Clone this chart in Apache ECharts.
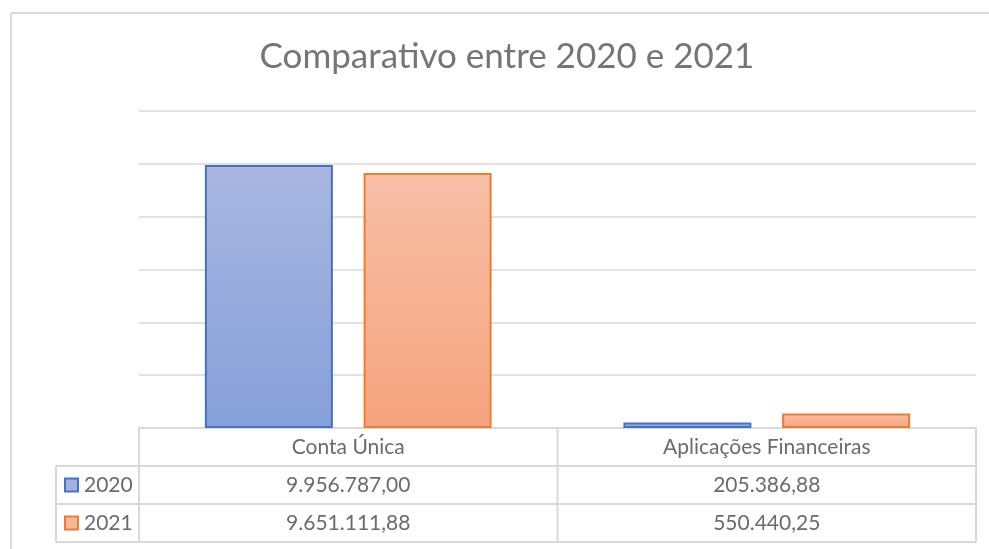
<!DOCTYPE html>
<html>
<head>
<meta charset="utf-8">
<script src="https://cdn.jsdelivr.net/npm/echarts@6/dist/echarts.min.js"></script>
<style>
  html, body { margin: 0; padding: 0; background: #fff; }
  #main { width: 989px; height: 549px; }
</style>
</head>
<body>
<div id="main"></div>
<script>
var categories = ['Conta Única', 'Aplicações Financeiras'];
var seriesNames = ['2020', '2021'];
var values2020 = [9956787.00, 205386.88];
var values2021 = [9651111.88, 550440.25];

var FONT = 'Lato, "Open Sans", sans-serif';
var TEXT_COLOR = '#6b6b6b';
var LINE_COLOR = '#d9d9d9';

// formato pt-BR: 9.956.787,00
function fmt(v) {
  var parts = v.toFixed(2).split('.');
  return parts[0].replace(/\B(?=(\d{3})+(?!\d))/g, '.') + ',' + parts[1];
}

var chart = echarts.init(document.getElementById('main'));

var option = {
  backgroundColor: '#ffffff',
  animation: false,
  title: {
    text: 'Comparativo entre 2020 e 2021',
    left: 502,
    textAlign: 'center',
    top: 34,
    textStyle: {
      fontFamily: FONT,
      fontWeight: 'normal',
      fontSize: 35,
      color: '#757575'
    }
  },
  grid: {
    left: 139,
    right: 13,
    top: 111,
    bottom: 121
  },
  xAxis: {
    type: 'category',
    data: categories,
    axisTick: { show: false },
    axisLabel: { show: false },
    axisLine: { lineStyle: { color: LINE_COLOR, width: 2 } }
  },
  yAxis: {
    type: 'value',
    min: 0,
    max: 12000000,
    interval: 2000000,
    axisLabel: { show: false },
    axisLine: { show: false },
    axisTick: { show: false },
    splitLine: { lineStyle: { color: LINE_COLOR, width: 1.5 } }
  },
  series: [
    {
      name: seriesNames[0],
      type: 'bar',
      data: values2020,
      barWidth: 128,
      barGap: '24%',
      itemStyle: {
        color: new echarts.graphic.LinearGradient(0, 0, 0, 1, [
          { offset: 0, color: '#a9b6e0' },
          { offset: 1, color: '#86a0d9' }
        ]),
        borderColor: '#4472c4',
        borderWidth: 2
      }
    },
    {
      name: seriesNames[1],
      type: 'bar',
      data: values2021,
      barWidth: 128,
      barGap: '24%',
      itemStyle: {
        color: new echarts.graphic.LinearGradient(0, 0, 0, 1, [
          { offset: 0, color: '#f7bfa7' },
          { offset: 1, color: '#f5a47e' }
        ]),
        borderColor: '#ed7d31',
        borderWidth: 2
      }
    }
  ]
};
chart.setOption(option);

// tabela de dados abaixo do eixo
function buildTable() {
  var g = [];
  var xL = 56, xC = 139, xR = 976;
  var yTop = 428, rowH = 38;
  var xMid = (chart.convertToPixel({ xAxisIndex: 0 }, 0) + chart.convertToPixel({ xAxisIndex: 0 }, 1)) / 2;
  var line = function (x1, y1, x2, y2) {
    g.push({ type: 'line', shape: { x1: x1, y1: y1, x2: x2, y2: y2 },
      style: { stroke: LINE_COLOR, lineWidth: 2 }, silent: true });
  };
  var text = function (x, y, s, align) {
    g.push({ type: 'text', x: x, y: y, silent: true,
      style: { text: s, fill: TEXT_COLOR, font: '21px ' + FONT,
        textAlign: align || 'center', textVerticalAlign: 'middle' } });
  };
  // moldura do gráfico
  line(11, 13, 989, 13);
  line(11, 13, 11, 549);
  // linhas horizontais
  line(xC, yTop, xR, yTop);
  for (var r = 1; r <= 3; r++) line(xL, yTop + r * rowH, xR, yTop + r * rowH);
  // linhas verticais
  line(xL, yTop + rowH, xL, yTop + 3 * rowH);
  line(xC, yTop, xC, yTop + 3 * rowH);
  line(xMid, yTop, xMid, yTop + 3 * rowH);
  line(xR, yTop, xR, yTop + 3 * rowH);

  // cabeçalho
  categories.forEach(function (c, i) {
    text(chart.convertToPixel({ xAxisIndex: 0 }, i), yTop + rowH / 2, c);
  });
  var rows = [values2020, values2021];
  var swatch = [['#a3b2df', '#4472c4'], ['#f6b69a', '#ed7d31']];
  rows.forEach(function (vals, r) {
    var cy = yTop + (r + 1) * rowH + rowH / 2;
    g.push({ type: 'rect', silent: true,
      shape: { x: 65, y: cy - 6.5, width: 13, height: 13 },
      style: { fill: swatch[r][0], stroke: swatch[r][1], lineWidth: 2 } });
    text(84, cy, seriesNames[r], 'left');
    vals.forEach(function (v, i) {
      text(chart.convertToPixel({ xAxisIndex: 0 }, i), cy, fmt(v));
    });
  });
  chart.setOption({ graphic: g });
}
buildTable();
</script>
</body>
</html>
